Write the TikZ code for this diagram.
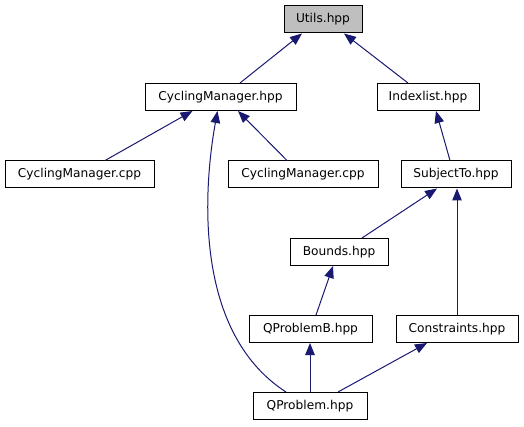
\documentclass[tikz,border=0pt]{standalone}
\usepackage{fontspec}
\setmainfont{DejaVu Sans}
\usetikzlibrary{positioning}
\usetikzlibrary{arrows.meta}
\definecolor{edgeblue}{RGB}{25,25,112}
\definecolor{rootgray}{RGB}{191,191,191}

\begin{document}
\begin{tikzpicture}[x=1pt, y=-1pt,
    every node/.style={font=\fontsize{12.2}{14}\selectfont},
    file/.style={draw=black, line width=1pt, fill=white, minimum height=27pt, inner sep=0pt},
    dep/.style={draw=edgeblue, line width=1pt, -{Triangle[length=12pt, width=9.5pt]}}]
    \useasboundingbox (0,0) rectangle (524,427);

    \node[file, fill=rootgray, minimum width=78pt] (utils) at (323,19.5) {Utils.hpp};
    \node[file, minimum width=151pt] (cmhpp) at (220.5,97) {CyclingManager.hpp};
    \node[file, minimum width=102pt] (index) at (428,97) {Indexlist.hpp};
    \node[file, minimum width=149pt] (cmcppa) at (79.5,174.5) {CyclingManager.cpp};
    \node[file, minimum width=150pt] (cmcppb) at (303,174.5) {CyclingManager.cpp};
    \node[file, minimum width=110pt] (subj) at (456,174.5) {SubjectTo.hpp};
    \node[file, minimum width=98pt] (bounds) at (339,252) {Bounds.hpp};
    \node[file, minimum width=123pt] (qpb) at (310.5,329) {QProblemB.hpp};
    \node[file, minimum width=122pt] (cons) at (457,329) {Constraints.hpp};
    \node[file, minimum width=114pt] (qp) at (310,406) {QProblem.hpp};

    \draw[dep] ([xshift=19.5pt]cmhpp.north) -- ([xshift=-21pt]utils.south);
    \draw[dep] ([xshift=-20pt]index.north) -- ([xshift=21pt]utils.south);
    \draw[dep] ([xshift=25.5pt]cmcppa.north) -- ([xshift=-28pt]cmhpp.south);
    \draw[dep] ([xshift=-16pt]cmcppb.north) -- ([xshift=17.5pt]cmhpp.south);
    \draw[dep] ([xshift=-24pt]qp.north) .. controls (190,330) and (205,180) .. ([xshift=-3pt]cmhpp.south);
    \draw[dep] ([xshift=-6pt]subj.north) -- ([xshift=8pt]index.south);
    \draw[dep] ([xshift=23pt]bounds.north) -- ([xshift=-19pt]subj.south);
    \draw[dep] (cons.north) -- (cons.north |- subj.south);
    \draw[dep] ([xshift=5.5pt]qpb.north) -- ([xshift=-6pt]bounds.south);
    \draw[dep] (qp.north) -- (qp.north |- qpb.south);
    \draw[dep] ([xshift=28pt]qp.north) -- ([xshift=-30pt]cons.south);
\end{tikzpicture}
\end{document}
